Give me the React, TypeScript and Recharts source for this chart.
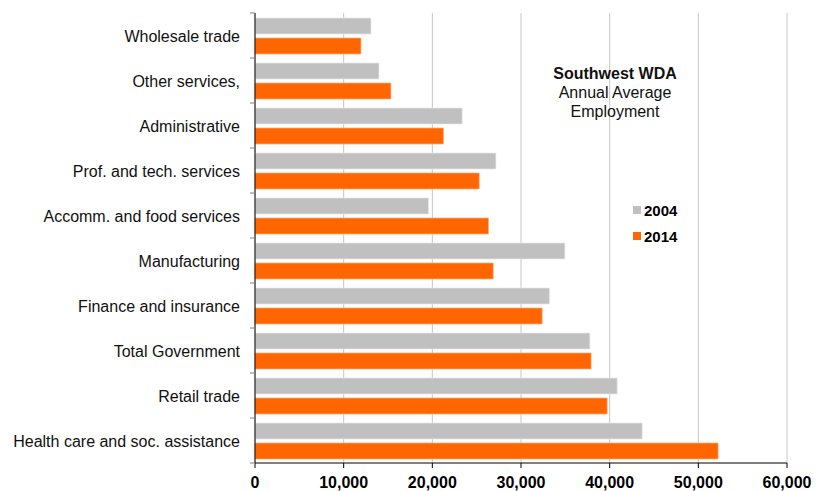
import { BarChart, Bar, XAxis, YAxis, CartesianGrid } from 'recharts';

const industries = [
  'Wholesale trade',
  'Other services,',
  'Administrative',
  'Prof. and tech. services',
  'Accomm. and food services',
  'Manufacturing',
  'Finance and insurance',
  'Total Government',
  'Retail trade',
  'Health care and soc. assistance',
];
const employment2004 = [13080, 13980, 23370, 27170, 19570, 34950, 33210, 37770, 40850, 43670];
const employment2014 = [11950, 15330, 21260, 25290, 26340, 26870, 32390, 37910, 39720, 52230];
const xTicks = [0, 10000, 20000, 30000, 40000, 50000, 60000];

const data = industries.map((name, i) => ({
  name,
  y2004: employment2004[i],
  y2014: employment2014[i],
}));

const font = '"Liberation Sans", Arial, sans-serif';

function CategoryTick(props: any) {
  const { x, y, payload, index } = props;
  const half = 22.5;
  return (
    <g>
      <line x1={x + 16} x2={x + 21} y1={y - half} y2={y - half} stroke="#808080" />
      {index === industries.length - 1 && (
        <line x1={x + 16} x2={x + 21} y1={y + half} y2={y + half} stroke="#808080" />
      )}
      <text x={x + 6} y={y} dy={6} textAnchor="end" fontSize={16} fill="#111" fontFamily={font}>
        {payload.value}
      </text>
    </g>
  );
}

export default function App() {
  return (
    <div style={{ position: 'relative', width: 811, height: 488, fontFamily: font }}>
      <BarChart
        width={811}
        height={488}
        data={data}
        layout="vertical"
        margin={{ top: 5, right: 32, left: 0, bottom: 5 }}
        barCategoryGap="20%"
        barGap={4}
      >
        <CartesianGrid horizontal={false} stroke="#c6c6c6" />
        <XAxis
          type="number"
          domain={[0, 60000]}
          ticks={xTicks}
          interval={0}
          tickFormatter={(v: number) => v.toLocaleString('en-US')}
          axisLine={{ stroke: '#000' }}
          tickLine={{ stroke: '#000' }}
          tickSize={5}
          tickMargin={9}
          height={28}
          tick={{ fill: '#000', fontSize: 16, fontWeight: 'bold', fontFamily: font }}
        />
        <YAxis
          type="category"
          dataKey="name"
          width={247}
          axisLine={{ stroke: '#000' }}
          tickLine={false}
          tickMargin={15}
          interval={0}
          tick={<CategoryTick />}
        />
        <Bar dataKey="y2004" fill="#c0c0c0" barSize={16} stroke="#e8e8e8" strokeWidth={0.7} isAnimationActive={false} />
        <Bar dataKey="y2014" fill="#ff6600" barSize={16} stroke="#ffb080" strokeWidth={0.7} isAnimationActive={false} />
      </BarChart>
      <div
        style={{
          position: 'absolute',
          left: 537,
          top: 56,
          width: 140,
          textAlign: 'center',
          fontSize: 16,
          lineHeight: '19px',
          color: '#111',
        }}
      >
        <div style={{ fontWeight: 'bold' }}>Southwest WDA</div>
        <div>Annual Average</div>
        <div>Employment</div>
      </div>
      <div style={{ position: 'absolute', left: 625, top: 189, fontSize: 15, fontWeight: 'bold', color: '#000' }}>
        {[
          { label: '2004', color: '#c0c0c0' },
          { label: '2014', color: '#ff6600' },
        ].map((item) => (
          <div key={item.label} style={{ display: 'flex', alignItems: 'center', height: 26 }}>
            <span style={{ width: 8, height: 8, background: item.color, marginRight: 3 }} />
            <span>{item.label}</span>
          </div>
        ))}
      </div>
    </div>
  );
}
